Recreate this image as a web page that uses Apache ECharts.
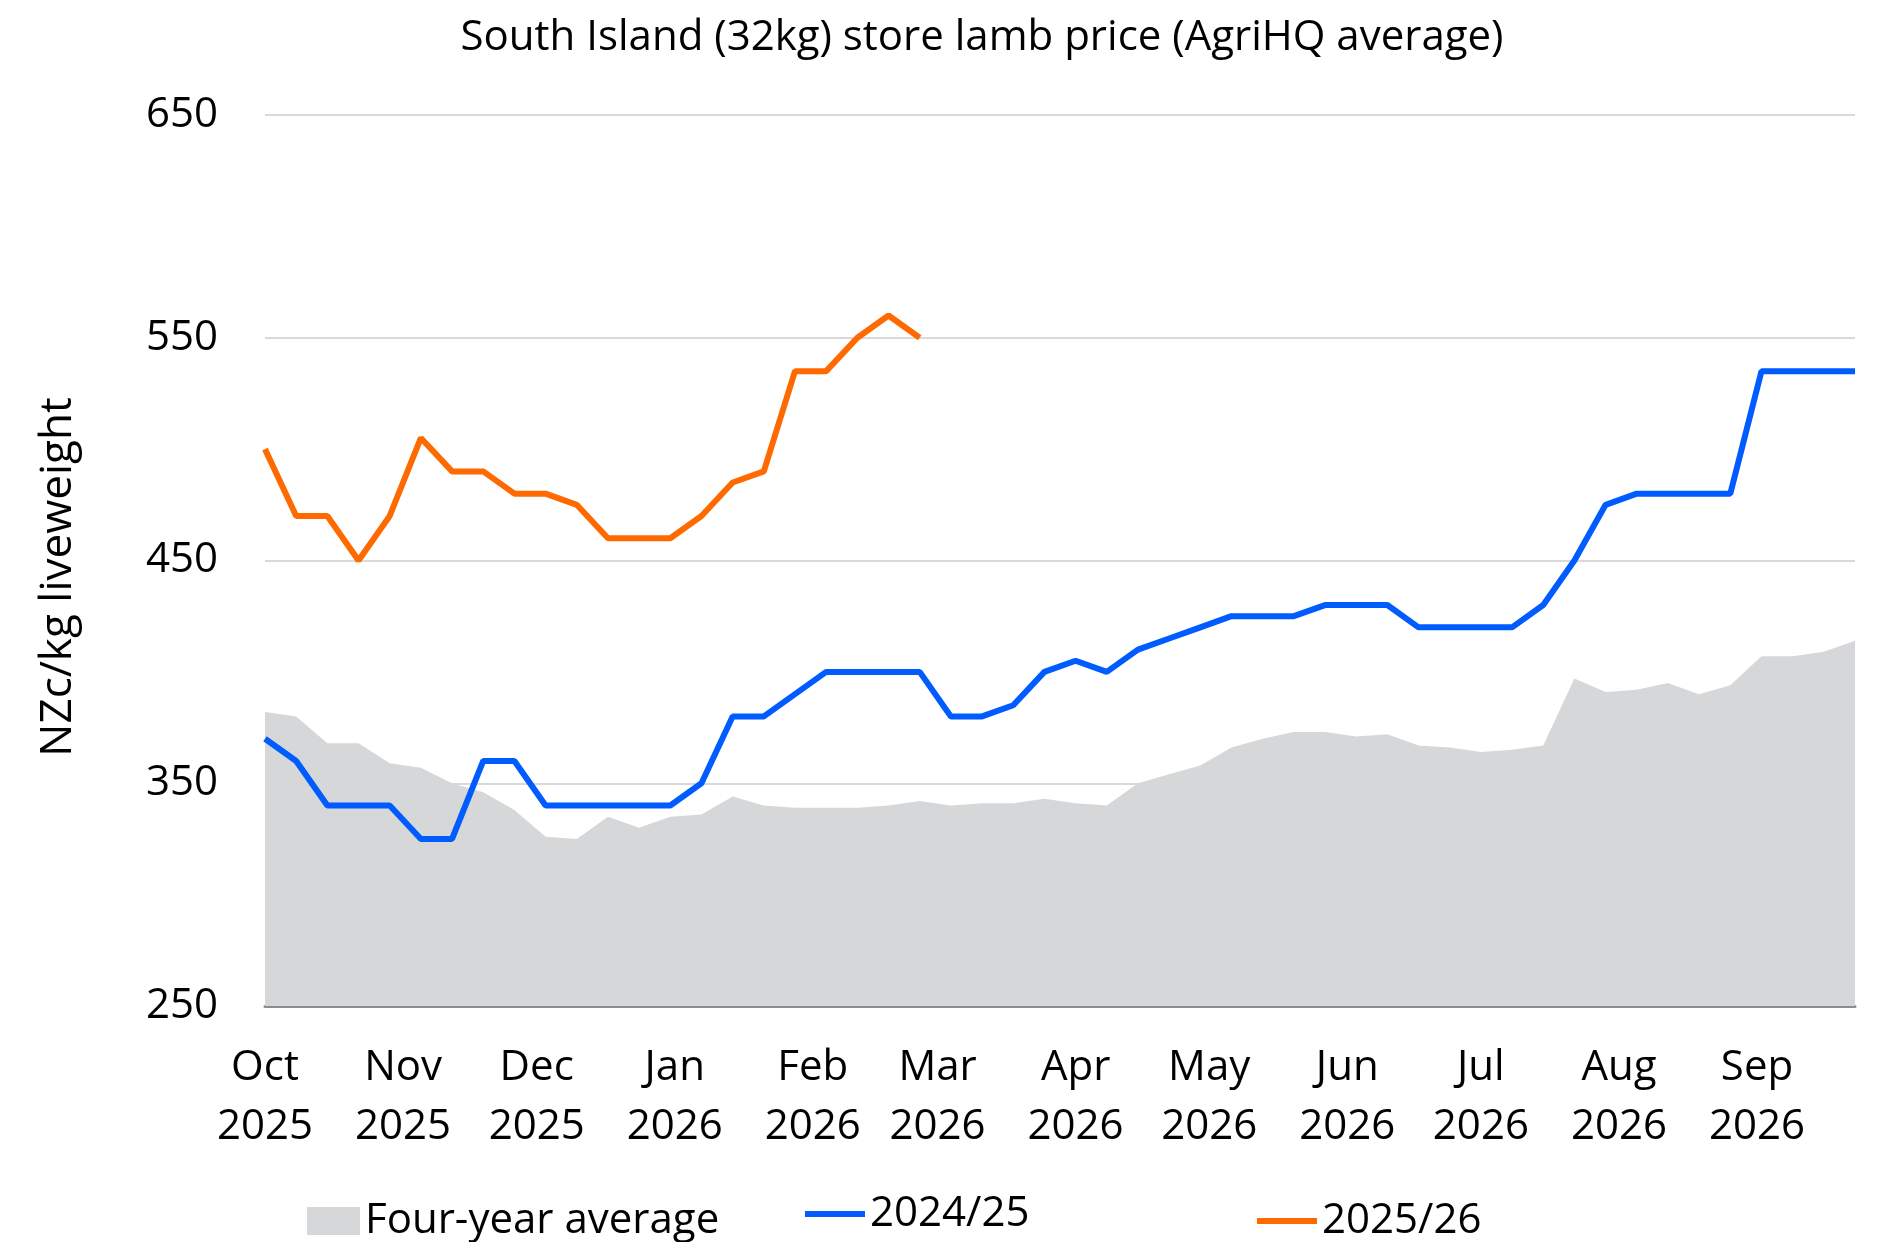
<!DOCTYPE html>
<html>
<head>
<meta charset="utf-8">
<script src="https://cdn.jsdelivr.net/npm/echarts@6/dist/echarts.min.js"></script>
<style>
  html, body { margin: 0; padding: 0; background: #fff; }
  #main { width: 1880px; height: 1242px; }
</style>
</head>
<body>
<div id="main"></div>
<script>
// weekly sale dates
const weeks = [
  '2025-10-01','2025-10-08','2025-10-15','2025-10-22','2025-10-29',
  '2025-11-05','2025-11-12','2025-11-19','2025-11-26',
  '2025-12-03','2025-12-10','2025-12-17','2025-12-24','2025-12-31',
  '2026-01-07','2026-01-14','2026-01-21','2026-01-28',
  '2026-02-04','2026-02-11','2026-02-18','2026-02-25',
  '2026-03-04','2026-03-11','2026-03-18','2026-03-25',
  '2026-04-01','2026-04-08','2026-04-15','2026-04-22','2026-04-29',
  '2026-05-06','2026-05-13','2026-05-20','2026-05-27',
  '2026-06-03','2026-06-10','2026-06-17','2026-06-24',
  '2026-07-01','2026-07-08','2026-07-15','2026-07-22','2026-07-29',
  '2026-08-05','2026-08-12','2026-08-19','2026-08-26',
  '2026-09-02','2026-09-09','2026-09-16','2026-09-23'
];
const fourYearAvg = [
  382, 380, 368, 368, 359, 357, 350, 346, 338, 326, 325, 335, 330, 335,
  336, 344, 340, 339, 339, 339, 340, 342, 340, 341, 341, 343, 341, 340,
  350, 354, 358, 366, 370, 373, 373, 371, 372, 367, 366, 364, 365, 367,
  397, 391, 392, 395, 390, 394, 407, 407, 409, 414
];
const season2425 = [
  370, 360, 340, 340, 340, 325, 325, 360, 360, 340, 340, 340, 340, 340,
  350, 380, 380, 390, 400, 400, 400, 400, 380, 380, 385, 400, 405, 400,
  410, 415, 420, 425, 425, 425, 430, 430, 430, 420, 420, 420, 420, 430,
  450, 475, 480, 480, 480, 480, 535, 535, 535, 535
];
const season2526 = [
  500, 470, 470, 450, 470, 505, 490, 490, 480, 480, 475, 460, 460, 460,
  470, 485, 490, 535, 535, 550, 560, 550
];
const monthStarts = [
  '2025-10-01','2025-11-01','2025-12-01','2026-01-01','2026-02-01','2026-03-01',
  '2026-04-01','2026-05-01','2026-06-01','2026-07-01','2026-08-01','2026-09-01'
];
const monthLabels = [
  'Oct\n2025','Nov\n2025','Dec\n2025','Jan\n2026','Feb\n2026','Mar\n2026',
  'Apr\n2026','May\n2026','Jun\n2026','Jul\n2026','Aug\n2026','Sep\n2026'
];
const yMin = 250, yMax = 650, yStep = 100;

const FONT = 'Open Sans';
const toTime = d => Date.parse(d + 'T00:00:00Z');
const weekTimes = weeks.map(toTime);
const monthTimes = monthStarts.map(toTime);
const pairs = arr => arr.map((v, i) => [weekTimes[i], v]);

var chartDom = document.getElementById('main');
var myChart = echarts.init(chartDom);
var option = {
  animation: false,
  textStyle: { fontFamily: FONT },
  title: {
    text: 'South Island (32kg) store lamb price (AgriHQ average)',
    left: 977,
    top: 12,
    textAlign: 'center',
    textStyle: { fontFamily: FONT, fontSize: 42, fontWeight: 'normal', color: '#000' }
  },
  graphic: [{
    type: 'text',
    x: 58,
    y: 577,
    rotation: Math.PI / 2,
    style: {
      text: 'NZc/kg liveweight',
      font: '44px "Open Sans"',
      fill: '#000',
      textAlign: 'center',
      textVerticalAlign: 'middle'
    }
  }],
  legend: [
    {
      data: [{ name: 'Four-year average', icon: 'rect' }],
      left: 302, top: 1193,
      itemWidth: 53, itemHeight: 28,
      textStyle: { fontSize: 42, color: '#000', lineHeight: 46 }
    },
    {
      data: [{ name: '2024/25', icon: 'rect' }],
      left: 800, top: 1186,
      itemWidth: 60, itemHeight: 6,
      textStyle: { fontSize: 42, color: '#000', lineHeight: 46 }
    },
    {
      data: [{ name: '2025/26', icon: 'rect' }],
      left: 1252, top: 1193,
      itemWidth: 60, itemHeight: 6,
      textStyle: { fontSize: 42, color: '#000', lineHeight: 46 }
    }
  ],
  grid: { left: 265, right: 25, top: 115, bottom: 236, containLabel: false },
  xAxis: {
    type: 'value',
    min: weekTimes[0],
    max: weekTimes[weekTimes.length - 1],
    splitLine: { show: false },
    axisTick: { show: false },
    axisLine: { show: true, lineStyle: { color: '#8c8c8c', width: 3 } },
    axisLabel: {
      customValues: monthTimes,
      formatter: function (v) {
        const i = monthTimes.indexOf(v);
        return i >= 0 ? monthLabels[i] : '';
      },
      fontSize: 42,
      lineHeight: 59,
      color: '#000',
      margin: 33,
      hideOverlap: false
    }
  },
  yAxis: {
    type: 'value',
    min: yMin,
    max: yMax,
    interval: yStep,
    axisLine: { show: false },
    axisTick: { show: false },
    axisLabel: { fontSize: 42, color: '#000', margin: 47 },
    splitLine: { lineStyle: { color: '#d9d9d9', width: 2 } }
  },
  series: [
    {
      name: 'Four-year average',
      type: 'line',
      data: pairs(fourYearAvg),
      symbol: 'none',
      lineStyle: { width: 0 },
      itemStyle: { color: '#d6d7d9' },
      areaStyle: { color: '#d6d7d9', opacity: 1, origin: 'start' },
      z: 1
    },
    {
      name: '2024/25',
      type: 'line',
      data: pairs(season2425),
      symbol: 'none',
      lineStyle: { width: 6, color: '#005cff' },
      itemStyle: { color: '#005cff' },
      z: 3
    },
    {
      name: '2025/26',
      type: 'line',
      data: pairs(season2526),
      symbol: 'none',
      lineStyle: { width: 6, color: '#ff6a00' },
      itemStyle: { color: '#ff6a00' },
      z: 4
    }
  ]
};
myChart.setOption(option);
</script>
</body>
</html>
